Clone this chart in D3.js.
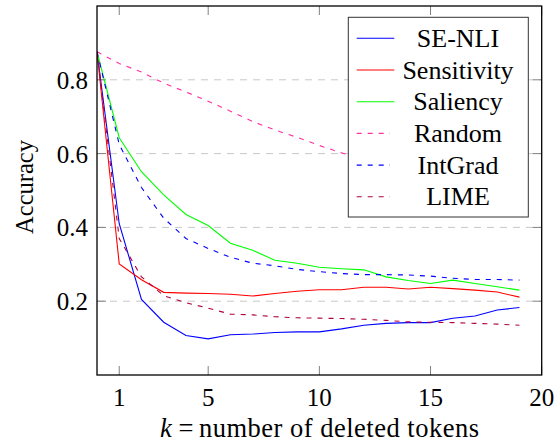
<!DOCTYPE html>
<html>
<head>
<meta charset="utf-8">
<script src="https://cdn.jsdelivr.net/npm/d3@7"></script>
<style>
  body { margin: 0; background: #fff; }
  svg { display: block; }
  svg text { font-family: "Times New Roman", "Liberation Serif", Times, serif; }
</style>
</head>
<body>
<div id="chart"></div>
<script>
// values (k = 0..19)
const kValues = d3.range(0, 20);
const seNli = [0.876, 0.41, 0.205, 0.143, 0.107, 0.098, 0.109, 0.111, 0.115, 0.117, 0.117, 0.125, 0.135, 0.14, 0.142, 0.142, 0.154, 0.16, 0.176, 0.183];
const sensitivity = [0.876, 0.301, 0.258, 0.224, 0.222, 0.221, 0.219, 0.214, 0.221, 0.227, 0.231, 0.231, 0.238, 0.238, 0.233, 0.238, 0.234, 0.23, 0.225, 0.211];
const saliency = [0.876, 0.643, 0.551, 0.488, 0.435, 0.405, 0.357, 0.338, 0.311, 0.303, 0.292, 0.288, 0.285, 0.266, 0.256, 0.248, 0.257, 0.248, 0.239, 0.23];
const random = [0.876, 0.844, 0.821, 0.791, 0.767, 0.742, 0.715, 0.687, 0.664, 0.644, 0.622, 0.602, 0.585, 0.57, 0.555, 0.54, 0.525, 0.51, 0.495, 0.48];
const intGrad = [0.876, 0.625, 0.508, 0.425, 0.37, 0.343, 0.319, 0.303, 0.296, 0.286, 0.28, 0.275, 0.272, 0.272, 0.271, 0.268, 0.262, 0.259, 0.259, 0.257];
const lime = [0.876, 0.37, 0.266, 0.215, 0.196, 0.181, 0.165, 0.163, 0.158, 0.155, 0.154, 0.153, 0.151, 0.148, 0.144, 0.143, 0.142, 0.14, 0.138, 0.135];

const seriesNames = ["SE-NLI", "Sensitivity", "Saliency", "Random", "IntGrad", "LIME"];
const xTicks = [1, 5, 10, 15, 20];
const yTicks = [0.2, 0.4, 0.6, 0.8];

const width = 555, height = 443;
const plot = {left: 97, right: 541.7, top: 6, bottom: 375};

const series = [
  {name: seriesNames[0], values: seNli, color: "#0000ff", dash: null},
  {name: seriesNames[1], values: sensitivity, color: "#ff0000", dash: null},
  {name: seriesNames[2], values: saliency, color: "#00ff00", dash: null},
  {name: seriesNames[3], values: random, color: "#ff30a0", dash: "5,6"},
  {name: seriesNames[4], values: intGrad, color: "#0000ff", dash: "5,6"},
  {name: seriesNames[5], values: lime, color: "#b00040", dash: "5,6"}
];

const x = d3.scaleLinear().domain([0, 20]).range([plot.left, plot.right]);
const y = d3.scaleLinear().domain([0, 1]).range([plot.bottom, plot.top]);

const svg = d3.select("#chart").append("svg")
    .attr("width", width)
    .attr("height", height)
    .attr("font-family", "'Times New Roman', 'Liberation Serif', serif");

svg.append("clipPath").attr("id", "clip")
  .append("rect")
    .attr("x", plot.left).attr("y", plot.top)
    .attr("width", plot.right - plot.left).attr("height", plot.bottom - plot.top);

// horizontal grid
svg.append("g")
  .selectAll("line")
  .data(yTicks)
  .join("line")
    .attr("x1", plot.left).attr("x2", plot.right)
    .attr("y1", d => y(d)).attr("y2", d => y(d))
    .attr("stroke", "#c8c8c8")
    .attr("stroke-width", 1)
    .attr("stroke-dasharray", "7,6");

// ticks (inside, on all four sides)
const tickLen = 9;
const ticks = svg.append("g").attr("stroke", "#808080").attr("stroke-width", 1);
ticks.selectAll(".xb").data(xTicks).join("line").attr("class", "xb")
    .attr("x1", d => x(d)).attr("x2", d => x(d))
    .attr("y1", plot.bottom).attr("y2", plot.bottom - tickLen);
ticks.selectAll(".xt").data(xTicks).join("line").attr("class", "xt")
    .attr("x1", d => x(d)).attr("x2", d => x(d))
    .attr("y1", plot.top).attr("y2", plot.top + tickLen);
ticks.selectAll(".yl").data(yTicks).join("line").attr("class", "yl")
    .attr("x1", plot.left).attr("x2", plot.left + tickLen)
    .attr("y1", d => y(d)).attr("y2", d => y(d));
ticks.selectAll(".yr").data(yTicks).join("line").attr("class", "yr")
    .attr("x1", plot.right).attr("x2", plot.right - tickLen)
    .attr("y1", d => y(d)).attr("y2", d => y(d));

// data lines
const line = d3.line()
    .x((d, i) => x(kValues[i]))
    .y(d => y(d));

svg.append("g")
    .attr("clip-path", "url(#clip)")
  .selectAll("path")
  .data(series)
  .join("path")
    .attr("d", d => line(d.values))
    .attr("fill", "none")
    .attr("stroke", d => d.color)
    .attr("stroke-width", 1.1)
    .attr("stroke-dasharray", d => d.dash);

// frame
svg.append("rect")
    .attr("x", plot.left).attr("y", plot.top)
    .attr("width", plot.right - plot.left).attr("height", plot.bottom - plot.top)
    .attr("fill", "none")
    .attr("stroke", "#000")
    .attr("stroke-width", 1.3);

// tick labels
svg.append("g")
    .attr("font-size", 25)
    .attr("text-anchor", "middle")
  .selectAll("text")
  .data(xTicks)
  .join("text")
    .attr("x", d => x(d))
    .attr("y", 406)
    .text(d => d);

svg.append("g")
    .attr("font-size", 25)
    .attr("text-anchor", "end")
  .selectAll("text")
  .data(yTicks)
  .join("text")
    .attr("x", 88)
    .attr("y", d => y(d) + 9)
    .text(d => d.toFixed(1));

// x axis label: "k = number of deleted tokens" with math-style spacing
const xl = svg.append("g").attr("font-size", 26.5);
xl.append("text")
    .attr("x", 160).attr("y", 437)
    .attr("font-style", "italic")
    .text("k");
xl.append("text")
    .attr("x", 186).attr("y", 437)
    .attr("text-anchor", "middle")
    .text("=");
xl.append("text")
    .attr("x", 199).attr("y", 437)
    .attr("textLength", 280)
    .attr("lengthAdjust", "spacing")
    .text("number of deleted tokens");

svg.append("text")
    .attr("transform", "translate(33,187) rotate(-90)")
    .attr("font-size", 24.5)
    .attr("text-anchor", "middle")
    .text("Accuracy");

// legend
const lg = svg.append("g");
lg.append("rect")
    .attr("x", 348.3).attr("y", 17.3)
    .attr("width", 180).attr("height", 199.7)
    .attr("fill", "#fff")
    .attr("stroke", "#333")
    .attr("stroke-width", 1);

const rowY = i => 38.3 + i * 31.7;
const item = lg.selectAll("g.item")
  .data(series)
  .join("g")
    .attr("class", "item");
item.append("line")
    .attr("x1", 356.7)
    .attr("x2", d => d.dash ? 390 : 394.3)
    .attr("y1", (d, i) => rowY(i))
    .attr("y2", (d, i) => rowY(i))
    .attr("stroke", d => d.color)
    .attr("stroke-width", 1.1)
    .attr("stroke-dasharray", d => d.dash);
item.append("text")
    .attr("x", 458)
    .attr("y", (d, i) => rowY(i) + 8.5)
    .attr("font-size", 26)
    .attr("text-anchor", "middle")
    .text(d => d.name);
</script>
</body>
</html>
